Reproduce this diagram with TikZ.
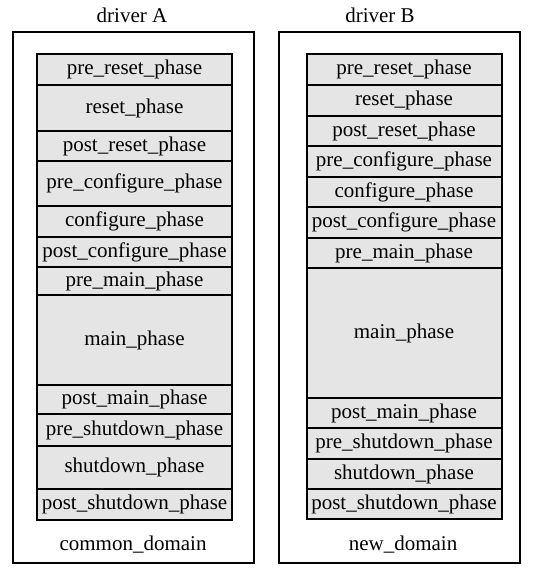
\documentclass[tikz,border=0pt]{standalone}
\usepackage{fontspec}
\setmainfont{Liberation Serif}
\usetikzlibrary{positioning}
\definecolor{phasegray}{RGB}{229,229,229}

\begin{document}
\begin{tikzpicture}[x=1pt,y=-1pt,
    phase/.style={rectangle,draw,line width=2pt,fill=phasegray,minimum width=195pt,inner sep=1pt,outer sep=0pt,font=\fontsize{21}{24}\selectfont},
    drvbox/.style={rectangle,draw,line width=2pt,minimum width=241pt,minimum height=531pt,outer sep=0pt},
    lbl/.style={inner sep=1pt,font=\fontsize{21}{24}\selectfont},
    node distance=0pt
]
    \useasboundingbox (0,0) rectangle (533,572);
    % outer boxes
    \node[drvbox] (boxA) at (133.5,297.5) {};
    \node[drvbox] (boxB) at (399.5,297.5) {};
    \node[lbl] (nameA) at (132,15) {driver A};
    \node[lbl] (nameB) at (380,15) {driver B};
    \node[lbl] (domA) at (133,545) {common\_domain};
    \node[lbl] (domB) at (403,545) {new\_domain};
    % driver A phases
    \node[phase,minimum height=31pt,anchor=north] (a1) at (134.5,54) {pre\_reset\_phase};
    \node[phase,minimum height=46pt,below=of a1] (a2) {reset\_phase};
    \node[phase,minimum height=30pt,below=of a2] (a3) {post\_reset\_phase};
    \node[phase,minimum height=45pt,below=of a3] (a4) {pre\_configure\_phase};
    \node[phase,minimum height=31pt,below=of a4] (a5) {configure\_phase};
    \node[phase,minimum height=30pt,below=of a5] (a6) {post\_configure\_phase};
    \node[phase,minimum height=28pt,below=of a6] (a7) {pre\_main\_phase};
    \node[phase,minimum height=90pt,below=of a7] (a8) {main\_phase};
    \node[phase,minimum height=29pt,below=of a8] (a9) {post\_main\_phase};
    \node[phase,minimum height=32pt,below=of a9] (a10) {pre\_shutdown\_phase};
    \node[phase,minimum height=43pt,below=of a10] (a11) {shutdown\_phase};
    \node[phase,minimum height=31pt,below=of a11] (a12) {post\_shutdown\_phase};
    % driver B phases
    \node[phase,minimum height=31pt,anchor=north] (b1) at (404,54) {pre\_reset\_phase};
    \node[phase,minimum height=31pt,below=of b1] (b2) {reset\_phase};
    \node[phase,minimum height=30pt,below=of b2] (b3) {post\_reset\_phase};
    \node[phase,minimum height=31pt,below=of b3] (b4) {pre\_configure\_phase};
    \node[phase,minimum height=30pt,below=of b4] (b5) {configure\_phase};
    \node[phase,minimum height=31pt,below=of b5] (b6) {post\_configure\_phase};
    \node[phase,minimum height=30pt,below=of b6] (b7) {pre\_main\_phase};
    \node[phase,minimum height=130pt,below=of b7] (b8) {main\_phase};
    \node[phase,minimum height=30pt,below=of b8] (b9) {post\_main\_phase};
    \node[phase,minimum height=31pt,below=of b9] (b10) {pre\_shutdown\_phase};
    \node[phase,minimum height=30pt,below=of b10] (b11) {shutdown\_phase};
    \node[phase,minimum height=30pt,below=of b11] (b12) {post\_shutdown\_phase};
\end{tikzpicture}
\end{document}
